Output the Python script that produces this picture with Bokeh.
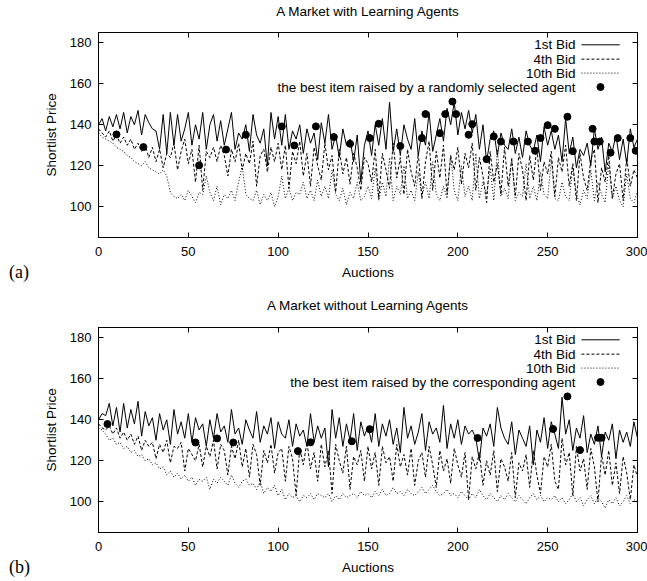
from bokeh.plotting import figure
from bokeh.models import (LinearAxis, Label, Arrow, Range1d, FixedTicker,
                          CustomJSTickFormatter, Div)
from bokeh.layouts import column, row
from bokeh.embed import file_html
from bokeh.resources import INLINE

# ---------------- data ----------------
auctions = list(range(0, 301, 2))
x_ticks = [0, 50, 100, 150, 200, 250, 300]
y_ticks = [100, 120, 140, 160, 180]

# Panel (a): market with learning agents
a_first = [140,143,137,144,139,145,138,146,136,144,140,147,135,145,141,138,
           137,128,145,126,146,130,145,132,138,146,130,140,133,146,128,
           140,145,132,142,130,138,146,128,136,133,140,127,145,135,131,138,120,146,133,144,
           130,145,128,137,133,140,126,138,131,136,123,141,131,145,128,135,124,138,130,133,122,135,112,130,137,
           125,140,130,143,128,151,127,138,125,140,133,128,143,125,137,130,146,127,135,143,132,148,140,151,135,
           146,138,147,136,145,128,140,122,133,137,125,136,130,128,138,126,134,124,137,130,127,135,122,139,130,
           137,128,135,122,143,126,134,119,128,125,131,120,138,128,134,117,131,127,135,123,133,121,138,129,133]
a_fourth = [138,136,134,137,132,135,131,134,130,133,128,131,127,130,124,129,
            122,128,119,126,124,131,118,127,133,121,128,112,130,108,127,
            124,129,122,130,125,115,128,122,131,118,126,121,132,110,125,128,117,129,122,131,
            118,130,109,127,121,132,115,126,110,129,120,113,131,118,125,107,128,116,124,111,126,119,108,124,121,
            112,128,104,126,118,109,131,114,124,106,128,117,110,126,104,122,132,108,127,114,130,106,125,118,129,
            111,126,119,131,108,124,115,102,127,112,121,106,129,110,123,105,126,118,103,125,113,129,108,122,116,
            127,105,124,117,130,110,121,103,126,114,108,123,128,102,119,112,125,104,116,121,103,124,110,118,114]
a_tenth = [136,134,133,132,131,129,128,127,125,124,122,121,120,122,119,118,
           117,116,118,115,107,105,104,106,103,108,105,102,107,106,115,
           107,103,110,101,106,104,108,103,112,120,106,104,103,108,101,106,103,107,100,105,
           115,104,109,103,107,106,112,104,108,103,113,105,110,104,118,106,103,109,101,107,104,112,103,105,110,
           104,119,103,112,105,124,103,110,106,120,104,108,103,117,105,112,104,122,106,103,110,104,125,108,103,
           120,105,110,103,126,104,112,106,119,103,128,105,109,104,124,103,107,105,121,104,110,103,117,106,104,
           123,104,103,112,105,103,120,106,101,108,104,118,103,112,106,102,121,104,110,103,100,116,104,102,108]
a_best_x = [10, 25, 56, 71, 82, 102, 109, 121, 131, 140, 151, 156, 168, 180, 182, 190, 193,
            197, 199, 206, 208, 216, 220, 224, 231, 239, 243, 246, 250, 254, 261, 264, 275,
            276, 279, 285, 289, 296, 299]
a_best_y = [135.3, 129.1, 120.2, 127.9, 135.1, 139.2, 129.9, 139.2, 134.0, 130.7, 133.5,
            140.5, 129.6, 133.5, 145.2, 135.9, 145.2, 151.3, 145.2, 135.1, 140.3, 123.2,
            134.3, 131.8, 131.8, 131.8, 127.3, 133.5, 139.8, 138.0, 143.9, 127.1, 138.0,
            131.8, 131.8, 126.4, 133.5, 133.5, 127.3]

# Panel (b): market without learning agents
b_first = [140,143,142,148,137,146,134,148,136,145,138,149,132,144,137,141,
           130,143,135,140,128,145,133,139,131,143,129,141,135,138,127,
           140,131,143,134,137,129,145,133,136,128,140,135,131,144,129,137,133,141,126,139,
           133,131,140,127,138,132,135,127,143,129,137,131,136,117,145,131,141,127,138,130,143,125,139,132,137,
           129,143,127,138,132,140,128,136,124,146,131,137,128,134,143,125,139,133,136,129,147,126,138,131,140,
           128,137,133,135,131,120,136,132,138,127,146,136,131,128,139,123,135,131,127,137,118,135,129,141,126,
           139,133,126,151,133,140,125,136,131,142,124,133,128,137,122,134,130,138,121,135,129,134,127,139,131]
b_fourth = [138,136,135,137,133,136,131,134,130,133,128,132,125,130,127,129,
            121,128,124,130,119,127,126,129,115,126,123,120,128,117,127,
            122,130,116,128,125,113,127,121,130,117,126,112,128,123,108,125,119,128,114,124,
            126,110,127,121,103,126,118,129,116,124,110,128,117,125,104,128,120,114,127,106,122,118,125,110,127,
            116,124,108,127,119,122,110,128,117,123,113,126,108,120,124,112,127,118,107,125,115,121,109,126,118,
            112,124,101,122,116,124,108,120,113,125,105,121,117,110,124,102,119,115,123,107,125,113,104,122,117,
            128,110,106,131,118,124,103,127,115,121,106,126,117,100,123,113,125,108,119,104,122,114,101,118,112]
b_tenth = [136,135,133,130,131,128,129,126,127,124,125,122,123,120,121,118,
           119,116,117,113,115,112,114,111,113,110,112,108,111,110,112,
           106,111,109,112,110,108,113,109,107,110,111,108,109,106,110,104,107,105,108,103,
           106,101,104,102,103,100,103,102,104,101,104,103,102,104,100,103,101,104,102,103,104,102,105,103,104,
           102,105,103,106,103,104,107,104,105,103,106,104,103,105,107,104,106,108,105,103,104,106,103,104,102,
           105,103,101,104,102,106,103,101,104,102,100,103,101,104,102,100,103,101,99,102,104,101,103,100,102,
           101,103,100,102,99,101,104,100,102,98,101,103,99,102,100,97,101,99,102,98,100,103,99,101,100]
b_best_x = [5, 54, 66, 75, 111, 118, 141, 151, 211, 253, 261, 268, 278, 280]
b_best_y = [137.9, 128.9, 130.9, 128.9, 124.7, 129.0, 129.5, 135.4, 131.1, 135.5, 151.4,
            125.2, 131.2, 131.2]

series_names = ["1st Bid", "4th Bid", "10th Bid"]
series_dash = ["solid", "3 2", "1 2"]

FONT = "Liberation Sans"
TEXT_SIZE = "13.5px"
TICK_SIZE = "13px"


def style_axis(ax, ticks, show_labels=True):
    ax.ticker = FixedTicker(ticks=ticks)
    ax.major_tick_in = 5
    ax.major_tick_out = 0
    ax.minor_tick_line_color = None
    ax.axis_line_color = "black"
    ax.major_tick_line_color = "black"
    ax.major_label_text_font = FONT
    ax.major_label_text_font_size = TICK_SIZE
    ax.major_label_text_color = "black"
    ax.major_label_standoff = 9
    ax.axis_label_text_font = FONT
    ax.axis_label_text_font_size = TEXT_SIZE
    ax.axis_label_text_font_style = "normal"
    ax.axis_label_text_color = "black"
    if not show_labels:
        ax.formatter = CustomJSTickFormatter(code="return ''")
        ax.major_label_standoff = 0


def make_panel(first, fourth, tenth, bx, by, best_label, height, top, bottom):
    p = figure(width=607, height=height, x_range=Range1d(0, 300), y_range=Range1d(85, 185),
               output_backend="svg", toolbar_location=None,
               min_border_left=58, min_border_right=10,
               min_border_top=top, min_border_bottom=bottom)
    p.xgrid.visible = False
    p.ygrid.visible = False
    p.outline_line_color = "black"
    p.outline_line_alpha = 1.0
    p.background_fill_color = "white"
    p.border_fill_color = "white"

    style_axis(p.xaxis[0], x_ticks)
    style_axis(p.yaxis[0], y_ticks)
    p.xaxis.major_label_standoff = 9
    p.yaxis.major_label_standoff = 7
    p.xaxis.axis_label = "Auctions"
    p.yaxis.axis_label = "Shortlist Price"
    p.xaxis.axis_label_standoff = 6
    p.yaxis.axis_label_standoff = 8

    ra = LinearAxis()
    style_axis(ra, y_ticks, show_labels=False)
    p.add_layout(ra, "right")
    ta = LinearAxis()
    style_axis(ta, x_ticks, show_labels=False)
    p.add_layout(ta, "above")

    for vals, dash in zip([first, fourth, tenth], series_dash):
        p.line(auctions, vals, line_color="black", line_width=1, line_dash=dash)
    p.scatter(bx, by, size=7, fill_color="black", line_color="black")

    # gnuplot style key (text, then sample)
    key_text_x = 265.5
    key_line_x0, key_line_x1 = 268.8, 290.1
    key_dot_x = 279.4
    key_rows = [179.0, 172.0, 165.2, 158.4]
    for name, dash, ky in zip(series_names, series_dash, key_rows[:3]):
        p.add_layout(Label(x=key_text_x, y=ky, text=name, text_align="right",
                           text_baseline="middle", text_font=FONT,
                           text_font_size=TEXT_SIZE, text_color="black"))
        p.add_layout(Arrow(end=None, x_start=key_line_x0, y_start=ky,
                           x_end=key_line_x1, y_end=ky, line_color="black",
                           line_width=1, line_dash=dash))
    p.add_layout(Label(x=key_text_x, y=key_rows[3], text=best_label, text_align="right",
                       text_baseline="middle", text_font=FONT,
                       text_font_size=TEXT_SIZE, text_color="black"))
    p.scatter([key_dot_x], [key_rows[3]], size=7, fill_color="black", line_color="black")
    return p


def tag_div(tag, top_px, height):
    html = ('<div style="margin-top:%dpx;margin-left:9px;font-family:\'Liberation Serif\';'
            'font-size:18px;line-height:20px;color:black;">%s</div>' % (top_px, tag))
    return Div(text=html, width=40, height=height, margin=(0, 0, 0, 0))


def title_div(text, top_px, height):
    html = ('<div style="margin-top:%dpx;width:647px;box-sizing:border-box;'
            'padding-left:98px;padding-right:10px;text-align:center;'
            'font-family:\'Liberation Sans\';font-size:13.5px;line-height:16px;color:black;">%s</div>'
            % (top_px, text))
    return Div(text=html, width=647, height=height, margin=(0, 0, 0, 0))


p1 = make_panel(a_first, a_fourth, a_tenth, a_best_x, a_best_y,
                "the best item raised by a randomly selected agent", 270, 12, 53)
p2 = make_panel(b_first, b_fourth, b_tenth, b_best_x, b_best_y,
                "the best item raised by the corresponding agent", 265, 12, 48)

layout = column(title_div("A Market with Learning Agents", 4, 20),
                row(tag_div("(a)", 242, 270), p1, spacing=0),
                title_div("A Market without Learning Agents", 8, 25),
                row(tag_div("(b)", 242, 265), p2, spacing=0),
                spacing=0)
open("out.html", "w").write(file_html(layout, INLINE))
